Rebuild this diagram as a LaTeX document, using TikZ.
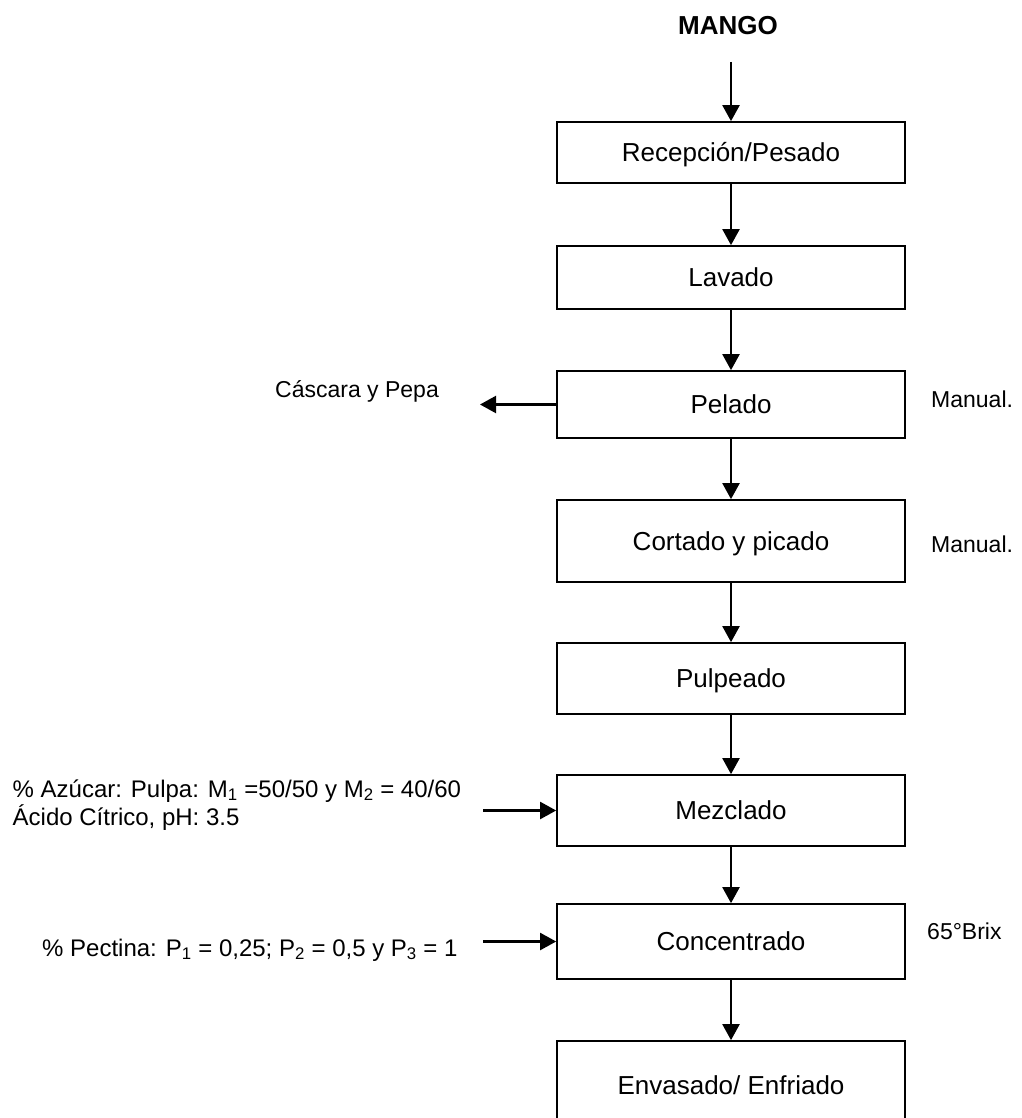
\documentclass[tikz,border=0pt]{standalone}
\usepackage{fontspec}
\setmainfont{Liberation Sans}
\usetikzlibrary{arrows.meta}
\begin{document}
\begin{tikzpicture}[x=1pt,y=-1pt,
  proc/.style={draw, line width=1.7pt, minimum width=348pt, inner sep=0pt,
    text height=18.6pt, text depth=0pt, font=\fontsize{26}{31}\selectfont},
  flow/.style={line width=2.2pt, -{Triangle[length=16pt,width=17pt]}},
  side/.style={anchor=base west, inner sep=0pt, font=\fontsize{23}{28}\selectfont},
  sidein/.style={anchor=base west, inner sep=0pt, font=\fontsize{24}{28}\selectfont}]
\useasboundingbox (0,0) rectangle (1021,1118);
\begin{scope}
\clip (0,0) rectangle (1021,1118);
% title
\node[anchor=base, inner sep=0pt, font=\bfseries\fontsize{26}{31}\selectfont] (mango) at (728,35) {MANGO};
% process boxes
\node[proc, minimum height=61pt] (rec) at (731,152.5) {Recepción/Pesado};
\node[proc, minimum height=63pt] (lav) at (731,277.5) {Lavado};
\node[proc, minimum height=67pt] (pel) at (731,404.5) {Pelado};
\node[proc, minimum height=82pt] (cor) at (731,541) {Cortado y picado};
\node[proc, minimum height=71pt] (pul) at (731,678.5) {Pulpeado};
\node[proc, minimum height=71pt] (mez) at (731,810.5) {Mezclado};
\node[proc, minimum height=75pt] (con) at (731,941.5) {Concentrado};
\node[proc, minimum height=89pt] (env) at (731,1085.5) {Envasado/ Enfriado};
% side labels
\node[side] (cas) at (275,397) {Cáscara y Pepa};
\node[side] (man1) at (931,407) {Manual.};
\node[side] (man2) at (931,552) {Manual.};
\node[side] (brix) at (927,939) {65°Brix};
\node[sidein] (azu1) at (12.5,797) {\% Azúcar: Pulpa: M\textsubscript{1} =50/50 y M\textsubscript{2} = 40/60};
\node[sidein] (azu2) at (12.5,825) {Ácido Cítrico, pH: 3.5};
\node[sidein] (pec) at (42,956) {\% Pectina: P\textsubscript{1} = 0,25; P\textsubscript{2} = 0,5 y P\textsubscript{3} = 1};
% free ends
\coordinate (casend) at (480,404.5);
\coordinate (azin) at (483,810.5);
\coordinate (pecin) at (483,941.5);
% connectors
\draw[flow, shorten <=27pt] (mango.base -| rec.north) -- (rec.north);
\draw[flow] (rec.south) -- (lav.north);
\draw[flow] (lav.south) -- (pel.north);
\draw[flow] (pel.south) -- (cor.north);
\draw[flow] (cor.south) -- (pul.north);
\draw[flow] (pul.south) -- (mez.north);
\draw[flow] (mez.south) -- (con.north);
\draw[flow] (con.south) -- (env.north);
\draw[flow] (pel.west) -- (casend);
\draw[flow] (azin) -- (mez.west);
\draw[flow] (pecin) -- (con.west);
\end{scope}
\end{tikzpicture}
\end{document}
